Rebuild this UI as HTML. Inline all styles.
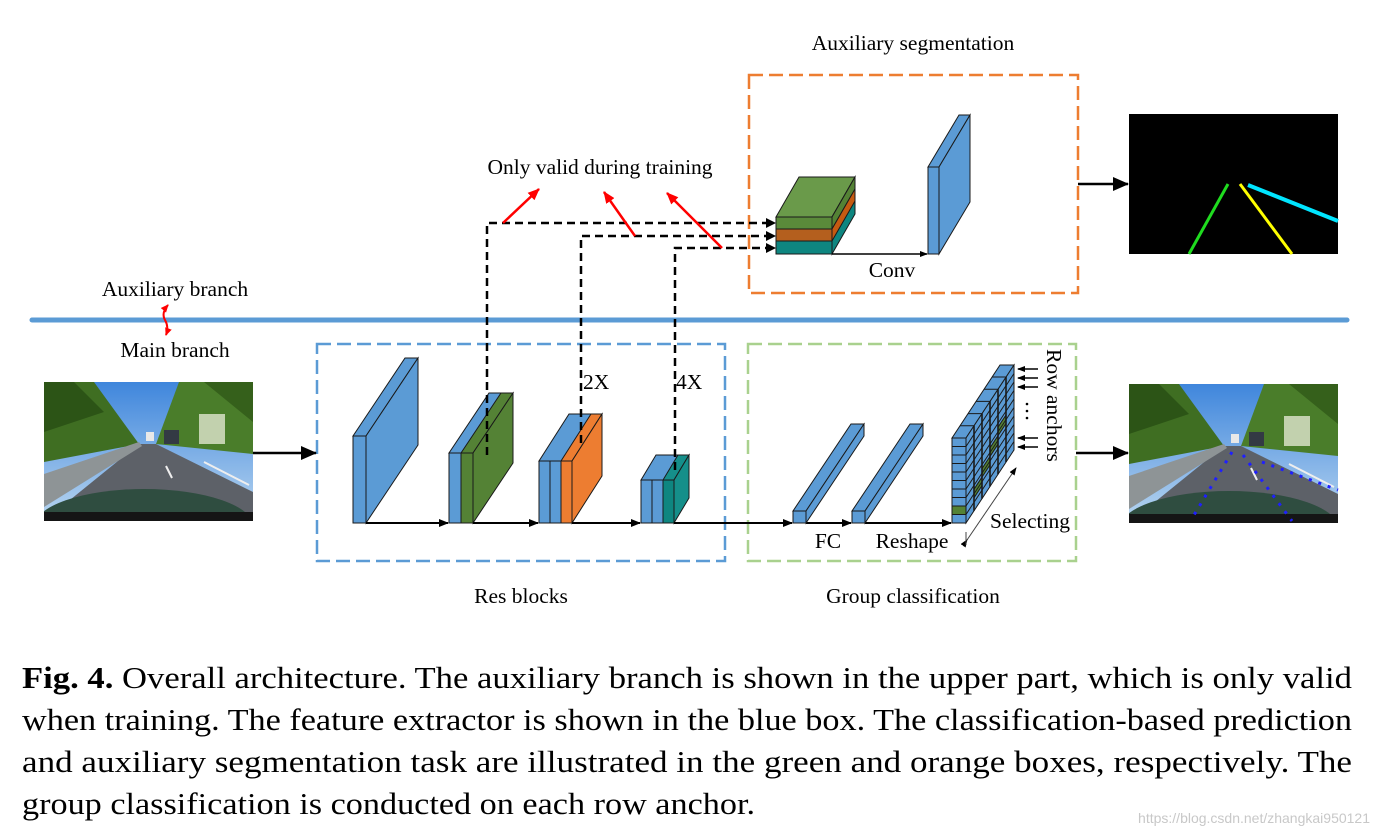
<!DOCTYPE html>
<html><head><meta charset="utf-8"><style>
html,body{margin:0;padding:0;background:#fff;}
svg{display:block;}
text{font-family:"Liberation Serif",serif;fill:#000;}
</style></head><body>
<svg width="1378" height="835" viewBox="0 0 1378 835" xmlns="http://www.w3.org/2000/svg">
<defs>
<marker id="ah" markerWidth="10" markerHeight="10" refX="9" refY="5" orient="auto" markerUnits="userSpaceOnUse"><path d="M0,1 L10,5 L0,9 z" fill="#000"/></marker>
<marker id="ahs" markerWidth="8" markerHeight="8" refX="7" refY="4" orient="auto" markerUnits="userSpaceOnUse"><path d="M0,1 L8,4 L0,7 z" fill="#000"/></marker>
<marker id="ahb" markerWidth="16" markerHeight="16" refX="15" refY="8" orient="auto" markerUnits="userSpaceOnUse"><path d="M0,1 L16,8 L0,15 z" fill="#000"/></marker>
<marker id="ahr" markerWidth="12" markerHeight="12" refX="11" refY="6" orient="auto" markerUnits="userSpaceOnUse"><path d="M0,1 L12,6 L0,11 z" fill="#f00"/></marker>
<marker id="ahr2" markerWidth="8" markerHeight="8" refX="7" refY="4" orient="auto-start-reverse" markerUnits="userSpaceOnUse"><path d="M0,0.5 L8,4 L0,7.5 z" fill="#f00"/></marker>
<linearGradient id="sky" x1="0" y1="0" x2="0" y2="1"><stop offset="0" stop-color="#3f86dc"/><stop offset="1" stop-color="#b9d6f0"/></linearGradient>
<clipPath id="pc"><rect x="0" y="0" width="209" height="139"/></clipPath>
<g id="photo" clip-path="url(#pc)">
<rect x="0" y="0" width="209" height="139" fill="url(#sky)"/>
<polygon points="0,0 50,0 95,62 0,80" fill="#3f6e22"/>
<polygon points="0,0 30,0 60,30 0,50" fill="#2c5416"/>
<polygon points="112,62 135,0 209,0 209,72" fill="#4a7d2a"/>
<polygon points="160,0 209,0 209,40" fill="#35601b"/>
<polygon points="0,139 95,62 112,62 209,110 209,139" fill="#5d6168"/>
<polygon points="0,92 95,60 98,64 0,125" fill="#8e9496"/>
<rect x="155" y="32" width="26" height="30" fill="#d7dfc5" opacity="0.85"/>
<rect x="120" y="48" width="15" height="14" fill="#333a44"/>
<rect x="102" y="50" width="8" height="9" fill="#e8e8e8"/>
<line x1="122" y1="84" x2="128" y2="96" stroke="#eee" stroke-width="2"/>
<line x1="160" y1="80" x2="205" y2="103" stroke="#eee" stroke-width="2"/>
<ellipse cx="100" cy="145" rx="110" ry="38" fill="#2f4d40"/>
<rect x="0" y="130" width="209" height="9" fill="#151515"/>
</g>
</defs>

<!-- titles -->
<text x="913" y="50" font-size="21.5" text-anchor="middle">Auxiliary segmentation</text>
<text x="600" y="174" font-size="21.5" text-anchor="middle">Only valid during training</text>
<text x="175" y="296" font-size="21.5" text-anchor="middle">Auxiliary branch</text>
<text x="175" y="357" font-size="21.5" text-anchor="middle">Main branch</text>
<text x="521" y="603" font-size="21.5" text-anchor="middle">Res blocks</text>
<text x="913" y="603" font-size="21.5" text-anchor="middle">Group classification</text>

<!-- divider -->
<line x1="32" y1="320" x2="1347" y2="320" stroke="#5b9bd5" stroke-width="5" stroke-linecap="round"/>
<path d="M168,305 Q161,313 165,320 Q169,327 166,335" stroke="#f00" stroke-width="2" fill="none" marker-start="url(#ahr2)" marker-end="url(#ahr2)"/>

<!-- dashed boxes -->
<rect x="749" y="75" width="329" height="218" fill="none" stroke="#ed7d31" stroke-width="2.5" stroke-dasharray="14,6"/>
<rect x="317" y="344" width="408" height="217" fill="none" stroke="#5b9bd5" stroke-width="2.5" stroke-dasharray="14,6"/>
<rect x="748" y="344" width="328" height="217" fill="none" stroke="#a9d18e" stroke-width="2.5" stroke-dasharray="14,6"/>

<!-- photos -->
<use href="#photo" x="44" y="382"/>
<use href="#photo" x="1129" y="384"/>
<g stroke="#1f1fff" stroke-width="3" stroke-dasharray="3,7" fill="none">
<line x1="1232" y1="452" x2="1191" y2="520"/>
<line x1="1243" y1="455" x2="1292" y2="521"/>
<line x1="1262" y1="462" x2="1338" y2="490"/>
</g>
<!-- seg image -->
<rect x="1129" y="114" width="209" height="140" fill="#000"/>
<line x1="1228" y1="184" x2="1189" y2="254" stroke="#1fdc1f" stroke-width="3"/>
<line x1="1240" y1="184" x2="1292" y2="254" stroke="#ffff00" stroke-width="3"/>
<line x1="1248" y1="185" x2="1338" y2="221" stroke="#00e5ff" stroke-width="4"/>

<!-- main arrows -->
<line x1="253" y1="453" x2="316" y2="453" stroke="#000" stroke-width="2.5" marker-end="url(#ahb)"/>
<line x1="1078" y1="184" x2="1128" y2="184" stroke="#000" stroke-width="2.5" marker-end="url(#ahb)"/>
<line x1="1076" y1="453" x2="1128" y2="453" stroke="#000" stroke-width="2.5" marker-end="url(#ahb)"/>

<g stroke="#1a1a1a" stroke-width="1">
<polygon points="353,436 366,436 418,358 405,358" fill="#5b9bd5"/>
<polygon points="366,436 418,358 418,445 366,523" fill="#5b9bd5"/>
<rect x="353" y="436" width="13" height="87" fill="#5b9bd5"/>
<polygon points="449,453 473,453 513,393 489,393" fill="#5b9bd5"/>
<polygon points="461,453 473,453 513,393 501,393" fill="#548235"/>
<polygon points="473,453 513,393 513,463 473,523" fill="#548235"/>
<rect x="449" y="453" width="12" height="70" fill="#5b9bd5"/>
<rect x="461" y="453" width="12" height="70" fill="#548235"/>
<polygon points="539,461 572,461 602,414 569,414" fill="#5b9bd5"/>
<polygon points="561,461 572,461 602,414 591,414" fill="#ed7d31"/>
<polygon points="572,461 602,414 602,476 572,523" fill="#ed7d31"/>
<rect x="539" y="461" width="11" height="62" fill="#5b9bd5"/>
<rect x="550" y="461" width="11" height="62" fill="#5b9bd5"/>
<rect x="561" y="461" width="11" height="62" fill="#ed7d31"/>
<polygon points="641,480 674,480 689,455 656,455" fill="#5b9bd5"/>
<polygon points="663,480 674,480 689,455 678,455" fill="#158f8a"/>
<polygon points="674,480 689,455 689,498 674,523" fill="#158f8a"/>
<rect x="641" y="480" width="11" height="43" fill="#5b9bd5"/>
<rect x="652" y="480" width="11" height="43" fill="#5b9bd5"/>
<rect x="663" y="480" width="11" height="43" fill="#0e8680"/>
</g>
<g stroke="#000" stroke-width="2">
<line x1="366" y1="523" x2="448" y2="523" marker-end="url(#ah)"/>
<line x1="473" y1="523" x2="538" y2="523" marker-end="url(#ah)"/>
<line x1="572" y1="523" x2="640" y2="523" marker-end="url(#ah)"/>
<line x1="674" y1="523" x2="792" y2="523" marker-end="url(#ah)"/>
<line x1="806" y1="523" x2="851" y2="523" marker-end="url(#ah)"/>
<line x1="865" y1="523" x2="951" y2="523" marker-end="url(#ah)"/>
</g>
<text x="583" y="389" font-size="21.5">2X</text>
<text x="676" y="389" font-size="21.5">4X</text>

<g stroke="#000" stroke-width="2.5" fill="none" stroke-dasharray="8,5">
<path d="M487,455 L487,223 L770,223"/>
<path d="M581,443 L581,236 L770,236"/>
<path d="M675,470 L675,248 L770,248"/>
</g>
<g fill="#000">
<path d="M776,223 L766,218 L766,228 z"/>
<path d="M776,236 L766,231 L766,241 z"/>
<path d="M776,248 L766,243 L766,253 z"/>
</g>
<g stroke="#f00" stroke-width="2.5">
<line x1="503" y1="223" x2="539" y2="189" marker-end="url(#ahr)"/>
<line x1="635" y1="236" x2="604" y2="192" marker-end="url(#ahr)"/>
<line x1="722" y1="248" x2="667" y2="193" marker-end="url(#ahr)"/>
</g>

<g stroke="#1a1a1a" stroke-width="1">
<polygon points="776,217 832,217 855,177 799,177" fill="#6a9a4a"/>
<polygon points="832,217 855,177 855,214 832,254" fill="#0e8680"/>
<polygon points="832,217 855,177 855,189 832,229" fill="#548235"/>
<polygon points="832,229 855,189 855,201 832,241" fill="#c55a11"/>
<rect x="776" y="217" width="56" height="12" fill="#5a8a3a"/>
<rect x="776" y="229" width="56" height="12" fill="#b45f1e"/>
<rect x="776" y="241" width="56" height="13" fill="#0e8680"/>
<polygon points="928,167 939,167 970,115 959,115" fill="#5b9bd5"/>
<polygon points="939,167 970,115 970,202 939,254" fill="#5b9bd5"/>
<rect x="928" y="167" width="11" height="87" fill="#5b9bd5"/>
</g>
<line x1="832" y1="254" x2="927" y2="254" stroke="#000" stroke-width="1.5" marker-end="url(#ahs)"/>
<text x="892" y="277" font-size="21.5" text-anchor="middle">Conv</text>

<g stroke="#1a1a1a" stroke-width="1" fill="#5b9bd5">
<polygon points="793,511 806,511 864,424 851,424"/>
<polygon points="806,511 864,424 864,436 806,523"/>
<rect x="793" y="511" width="13" height="12"/>
<polygon points="852,511 865,511 923,424 910,424"/>
<polygon points="865,511 923,424 923,436 865,523"/>
<rect x="852" y="511" width="13" height="12"/>
</g>
<text x="828" y="548" font-size="21.5" text-anchor="middle">FC</text>
<text x="912" y="548" font-size="21.5" text-anchor="middle">Reshape</text>

<g stroke="#1a1a1a" stroke-width="1">
<polygon points="952,438 966,438 1014,365 1000,365" fill="#5b9bd5"/>
<polygon points="966,438 1014,365 1014,450 966,523" fill="#5b9bd5"/>
<polygon points="974,489.3 982,477.1 982,485.6 974,497.8" fill="#548235"/>
<polygon points="982,468.6 990,456.4 990,464.9 982,477.1" fill="#548235"/>
<polygon points="990,447.9 998,435.7 998,444.2 990,456.4" fill="#548235"/>
<polygon points="998,427.2 1006,415 1006,423.5 998,435.7" fill="#548235"/>
<rect x="952" y="438" width="14" height="85" fill="#5b9bd5"/>
<rect x="952" y="506" width="14" height="8.5" fill="#548235"/>
<g fill="none">
<path d="M952,446.5h14M952,455h14M952,463.5h14M952,472h14M952,480.5h14M952,489h14M952,497.5h14M952,506h14M952,514.5h14"/>
<path d="M966,446.5L1014,373.5M966,455L1014,382M966,463.5L1014,390.5M966,472L1014,399M966,480.5L1014,407.5M966,489L1014,416M966,497.5L1014,424.5M966,506L1014,433M966,514.5L1014,441.5"/>
<path d="M974,425.8v85M982,413.6v85M990,401.4v85M998,389.2v85M1006,377v85" stroke-width="1.6"/>
<path d="M960,425.8h14M968,413.6h14M976,401.4h14M984,389.2h14M992,377h14"/>
</g>
</g>
<line x1="967" y1="540" x2="1016" y2="468" stroke="#444" stroke-width="1" marker-start="url(#ahs)" marker-end="url(#ahs)"/>
<line x1="966" y1="532" x2="966" y2="545" stroke="#444" stroke-width="1"/>
<text x="990" y="528" font-size="21.5">Selecting</text>
<g stroke="#000" stroke-width="1.5">
<line x1="1038" y1="369" x2="1018" y2="369" marker-end="url(#ahs)"/>
<line x1="1038" y1="378" x2="1018" y2="378" marker-end="url(#ahs)"/>
<line x1="1038" y1="387" x2="1018" y2="387" marker-end="url(#ahs)"/>
<line x1="1038" y1="438" x2="1018" y2="438" marker-end="url(#ahs)"/>
<line x1="1038" y1="447" x2="1018" y2="447" marker-end="url(#ahs)"/>
</g>
<g fill="#000"><circle cx="1027" cy="404" r="1.3"/><circle cx="1027" cy="411" r="1.3"/><circle cx="1027" cy="418" r="1.3"/></g>
<text x="0" y="0" font-size="21.5" transform="translate(1047,349) rotate(90)">Row anchors</text>

<g font-size="31">
<text x="22" y="688" textLength="1330" lengthAdjust="spacingAndGlyphs"><tspan font-weight="bold">Fig. 4.</tspan> Overall architecture. The auxiliary branch is shown in the upper part, which is only valid</text>
<text x="22" y="730" textLength="1330" lengthAdjust="spacingAndGlyphs">when training. The feature extractor is shown in the blue box. The classification-based prediction</text>
<text x="22" y="772" textLength="1330" lengthAdjust="spacingAndGlyphs">and auxiliary segmentation task are illustrated in the green and orange boxes, respectively. The</text>
<text x="22" y="814" textLength="733" lengthAdjust="spacingAndGlyphs">group classification is conducted on each row anchor.</text>
</g>
<text x="1370" y="823" font-size="14" text-anchor="end" style="font-family:'Liberation Sans',sans-serif;fill:#c8c8c8">https://blog.csdn.net/zhangkai950121</text>
</svg>
</body></html>
